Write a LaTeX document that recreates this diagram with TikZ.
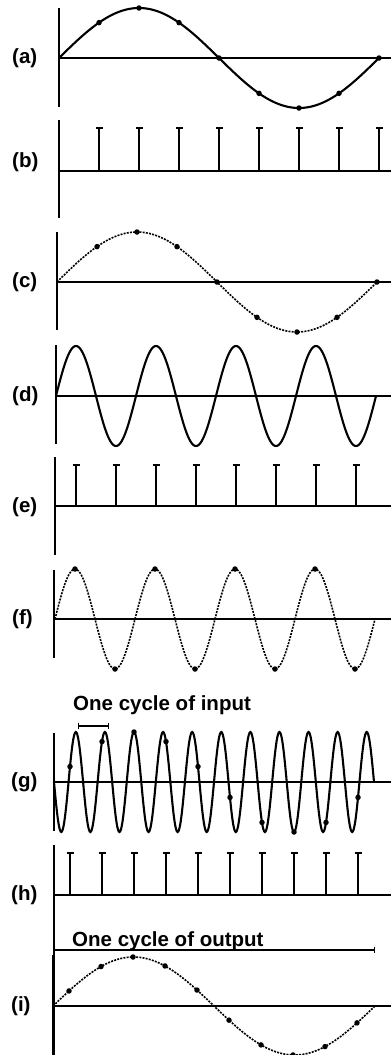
\documentclass[tikz,border=0pt]{standalone}
\usepackage{fontspec}
\setmainfont{Liberation Sans}
\usetikzlibrary{arrows.meta}
\tikzset{
    sigAxis/.style={line width=1.5pt,draw=black},
    sigSolid/.style={line width=2.1pt,draw=black,smooth},
    sigDotted/.style={line width=1.6pt,draw=black,smooth,dash pattern=on 2pt off 1.2pt},
    sigSample/.style={circle,fill=black,inner sep=0pt,minimum size=5.5pt},
    sigImpulse/.style={line width=1.8pt,draw=black,-{Bar[width=7pt,line width=1.8pt]}},
    sigLabel/.style={anchor=west,inner sep=0pt,font=\fontsize{20.5}{24}\selectfont\bfseries},
    sigNote/.style={anchor=base west,inner sep=0pt,font=\fontsize{20.5}{24}\selectfont\bfseries},
    sigSpan/.style={line width=1.4pt,{Bar[width=6pt]}-{Bar[width=6pt]}}
}
\begin{document}
\begin{tikzpicture}[x=1pt,y=-1pt]
        \useasboundingbox (0,0) rectangle (391,1055);

        % panel labels
        \node[sigLabel] (la) at (12,58) {(a)};
        \node[sigLabel] (lb) at (12,162) {(b)};
        \node[sigLabel] (lc) at (12,282) {(c)};
        \node[sigLabel] (ld) at (12,396) {(d)};
        \node[sigLabel] (le) at (12,507) {(e)};
        \node[sigLabel] (lf) at (12,619) {(f)};
        \node[sigLabel] (lg) at (11,782) {(g)};
        \node[sigLabel] (lh) at (11,895) {(h)};
        \node[sigLabel] (li) at (11,1006) {(i)};

        % axes: x / top / bottom / baseline
        \foreach \ax/\top/\bot/\base in {59/8/107/58, 59/120/218/171, 57/232/330/282,
            56/345/444/396, 55/457/555/506, 54/570/658/619, 54/733/831/782,
            54/845/1055/895, 53/955/1055/1006}{
            \draw[sigAxis] (\ax,\top) -- (\ax,\bot);
            \draw[sigAxis] (\ax,\base) -- (391,\base);
        }

        % (a) input sine, sampled
        \draw[sigSolid] plot[domain=0:320,samples=161] ({59+\x},{58-50*sin(\x*1.125)});
        \foreach \k in {1,...,8}
            \node[sigSample] (a\k) at ({59+40*\k},{58-50*sin(45*\k)}) {};

        % (b) sampling pulses
        \foreach \k in {1,...,8}{
            \coordinate (b\k) at ({59+40*\k},171);
            \coordinate (bt\k) at ({59+40*\k},127);
            \draw[sigImpulse] (b\k) -- (bt\k);
        }

        % (c) sampled output
        \draw[sigDotted] plot[domain=0:320,samples=161] ({57+\x},{282-50*sin(\x*1.125)});
        \foreach \k in {1,...,8}
            \node[sigSample] (c\k) at ({57+40*\k},{282-50*sin(45*\k)}) {};

        % (d) faster input
        \draw[sigSolid] plot[domain=0:320,samples=321] ({56+\x},{396-50*sin(\x*4.5)});

        % (e) sampling pulses
        \foreach \k in {0,...,7}{
            \coordinate (e\k) at ({76+40*\k},506);
            \coordinate (et\k) at ({76+40*\k},464);
            \draw[sigImpulse] (e\k) -- (et\k);
        }

        % (f) sampled output
        \draw[sigDotted] plot[domain=0:320,samples=321] ({55+\x},{619-50*sin(\x*4.5)});
        \foreach \k in {0,...,7}
            \node[sigSample] (f\k) at ({75+40*\k},{619-50*sin(90+180*\k)}) {};

        % (g) input above sampling rate
        \node[sigNote] (noteIn) at (73,710) {One cycle of input};
        \coordinate (inL) at (78,726);
        \coordinate (inR) at (109,726);
        \draw[sigSpan] (inL) -- (inR);
        \draw[sigSolid] plot[domain=0:320,samples=441] ({54+\x},{782+50*sin(\x*12.375)});
        \foreach \k in {0,...,9}
            \node[sigSample] (g\k) at ({70+32*\k},{782+50*sin((16+32*\k)*12.375)}) {};

        % (h) sampling pulses
        \foreach \k in {0,...,9}{
            \coordinate (h\k) at ({70+32*\k},895);
            \coordinate (ht\k) at ({70+32*\k},852);
            \draw[sigImpulse] (h\k) -- (ht\k);
        }

        % (i) aliased output
        \node[sigNote] (noteOut) at (72,946) {One cycle of output};
        \coordinate (outL) at (53,950);
        \coordinate (outR) at (375,950);
        \draw[sigSpan] (outL) -- (outR);
        \draw[sigDotted] plot[domain=0:322,samples=161] ({53+\x},{1006-49*sin(\x*1.118)});
        \foreach \k in {0,...,9}
            \node[sigSample] (i\k) at ({69+32*\k},{1006-49*sin((16+32*\k)*1.118)}) {};
\end{tikzpicture}
\end{document}
